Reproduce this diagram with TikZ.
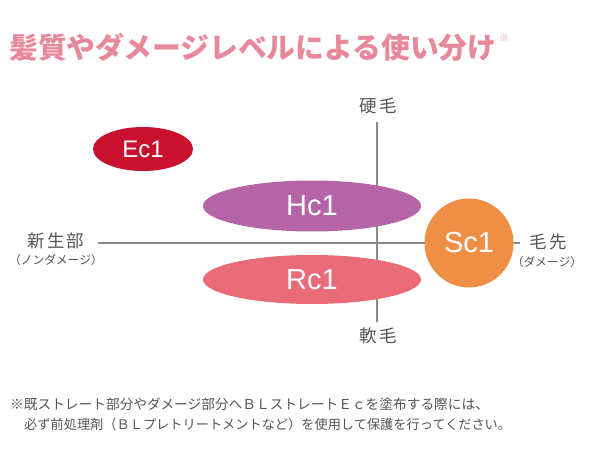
\documentclass[tikz,border=0pt]{standalone}
\usepackage{fontspec}
\usetikzlibrary{shapes.geometric}
\newfontfamily\jp{Noto Sans CJK JP}
\newfontfamily\jpsp[LetterSpace=12]{Noto Sans CJK JP}
\newfontfamily\lat{Liberation Sans}
\definecolor{titlepink}{HTML}{E8889B}
\definecolor{axisgray}{HTML}{8A8A8A}
\definecolor{labgray}{HTML}{555555}
\definecolor{ecred}{HTML}{C9102F}
\definecolor{hcpurple}{HTML}{B565A7}
\definecolor{rcpink}{HTML}{E96B77}
\definecolor{scorange}{HTML}{EF8F45}
\tikzset{
  blob/.style={ellipse, inner sep=0pt, text=white},
  axislab/.style={text=labgray, font=\jpsp\fontsize{17.5}{19}\selectfont, inner sep=0pt},
  sublab/.style={text=labgray, font=\jp\fontsize{11.8}{13}\selectfont, inner sep=0pt},
  axisline/.style={draw=axisgray, line width=1.1pt},
}
\begin{document}
\begin{tikzpicture}[x=1pt,y=-1pt]
\fill[white] (0,0) rectangle (600,462);
\useasboundingbox (0,0) rectangle (600,462);
% title
\node[anchor=west, inner sep=0pt, text=titlepink, font=\jp\bfseries\fontsize{28.8}{30}\selectfont] (title) at (9,47) {髪質やダメージレベルによる使い分け};
\node[anchor=west, inner sep=0pt, text=titlepink!80, font=\jp\fontsize{10}{11}\selectfont] (tmark) at (title.east) [xshift=2pt,yshift=9pt] {※};
% axes
\coordinate (vt) at (377,122);
\coordinate (vb) at (377,322);
\coordinate (hl) at (98,243);
\coordinate (hr) at (520,243);
\draw[axisline] (vt) -- (vb);
\draw[axisline] (hl) -- (hr);
% axis labels
\node[axislab] (hard) at (378,106) {硬毛};
\node[axislab] (soft) at (378,336) {軟毛};
\node[axislab] (new) at (56,241) {新生部};
\node[sublab] (newsub) at (56,260) {（ノンダメージ）};
\node[axislab] (tip) at (548,242) {毛先};
\node[sublab] (tipsub) at (547,262) {（ダメージ）};
% blobs
\node[blob, fill=ecred, minimum width=100pt, minimum height=44pt, font=\lat\fontsize{24}{26}\selectfont] (ec) at (143,149) {Ec1};
\node[blob, fill=hcpurple, minimum width=218pt, minimum height=51pt, font=\lat\fontsize{29}{31}\selectfont] (hc) at (312,206) {Hc1};
\node[blob, fill=rcpink, minimum width=218pt, minimum height=49pt, font=\lat\fontsize{29}{31}\selectfont] (rc) at (312,279.5) {Rc1};
\node[circle, inner sep=0pt, text=white, fill=scorange, minimum size=89pt, font=\lat\fontsize{29}{31}\selectfont] (sc) at (469,243) {Sc1};
% footnote
\node[anchor=west, inner sep=0pt, text=labgray, font=\jp\fontsize{13.7}{15}\selectfont] (note1) at (10,404) {※既ストレート部分やダメージ部分へＢＬストレートＥｃを塗布する際には、};
\node[anchor=west, inner sep=0pt, text=labgray, font=\jp\fontsize{13.2}{15}\selectfont] (note2) at (24,424) {必ず前処理剤（ＢＬプレトリートメントなど）を使用して保護を行ってください。};
\end{tikzpicture}
\end{document}
